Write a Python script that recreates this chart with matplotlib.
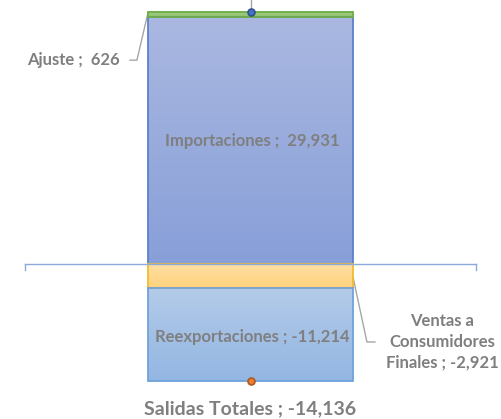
import numpy as np
import matplotlib.pyplot as plt
from matplotlib.patches import Rectangle

# values
pos_names = ['Importaciones', 'Ajuste']
pos_values = [29931, 626]
neg_names = ['Ventas a\nConsumidores\nFinales', 'Reexportaciones']
neg_values = [-2921, -11214]
total_name = 'Salidas Totales'
total_value = -14136

# colours: (top of gradient, bottom of gradient, edge)
pos_colors = [('#aab8e1', '#889fd8', '#5b80cc'), ('#a9d18e', '#8cc168', '#70ad47')]
neg_colors = [('#ffe0a6', '#ffd27c', '#f2bb2e'), ('#b3cbe9', '#93b6e2', '#6fa2da')]

gray = '#7f7f7f'
font = ['Lato', 'DejaVu Sans']

fig = plt.figure(figsize=(5.01, 4.19), dpi=100)
ax = fig.add_axes([0, 0, 1, 1])
ax.set_xlim(-1.222, 1.222)
ax.set_ylim(-18783, 31991)
ax.axis('off')

width = 1.0


def grad_bar(bottom, height, c_top, c_bot, edge):
    y0, y1 = sorted([bottom, bottom + height])
    g = np.linspace(0, 1, 64)[:, None]
    ct = np.array(plt.matplotlib.colors.to_rgb(c_top))
    cb = np.array(plt.matplotlib.colors.to_rgb(c_bot))
    img = ct[None, None, :] * (1 - g[..., None]) + cb[None, None, :] * g[..., None]
    ax.imshow(img, extent=(-width / 2, width / 2, y0, y1), aspect='auto',
              origin='upper', zorder=2)
    ax.add_patch(Rectangle((-width / 2, y0), width, y1 - y0, fill=False,
                           edgecolor=edge, lw=1.3, zorder=3))


b = 0
for v, (ct, cb, ec) in zip(pos_values, pos_colors):
    grad_bar(b, v, ct, cb, ec)
    b += v
top_total = b

b = 0
for v, (ct, cb, ec) in zip(neg_values, neg_colors):
    grad_bar(b, v, ct, cb, ec)
    b += v

# zero axis with end ticks
axc = '#8eaadb'
ax.plot([-1.1, 1.1], [0, 0], color=axc, lw=1, zorder=4)
ax.plot([-1.1, -1.1], [0, -700], color=axc, lw=1, zorder=4)
ax.plot([1.1, 1.1], [0, -700], color=axc, lw=1, zorder=4)
ax.set_ylim(-18783, 31991)

# total markers
ax.plot([0, 0], [top_total + 300, 32000], color='#a6a6a6', lw=1, zorder=4)
ax.plot(0, top_total, 'o', ms=5, mfc='#4472c4', mec='#2f528f', mew=1.2, zorder=5)
ax.plot(0, total_value, 'o', ms=5, mfc='#ed7d31', mec='#ae5a21', mew=1.2, zorder=5)

tk = dict(color=gray, fontweight='bold', family=font, fontsize=12)
ax.text(0.01, pos_values[0] / 2 - 60, f'{pos_names[0]} ;  {pos_values[0]:,}',
        ha='center', va='center', zorder=6, **tk)
ax.text(0.01, neg_values[0] + neg_values[1] / 2 - 300,
        f'{neg_names[1]} ; {neg_values[1]:,}', ha='center', va='center', zorder=6, **tk)
ax.text(-0.637, 24700, f'{pos_names[1]} ;  {pos_values[1]:,}', ha='right',
        va='center', **tk)
ax.plot([-0.588, -0.554, -0.5], [24700, 24700, top_total - 100], color='#a6a6a6', lw=1)
ax.text(0.935, -9400, f'{neg_names[0]} ; {neg_values[0]:,}', ha='center',
        va='center', linespacing=1.35, **tk)
ax.plot([0.5, 0.568, 0.607], [-1575, -9450, -9450], color='#a6a6a6', lw=1)
ax.text(0, -17500, f'{total_name} ; {total_value:,}', ha='center', va='center',
        color=gray, fontweight='bold', family=font, fontsize=14)

fig.savefig('out.png', dpi=100)
